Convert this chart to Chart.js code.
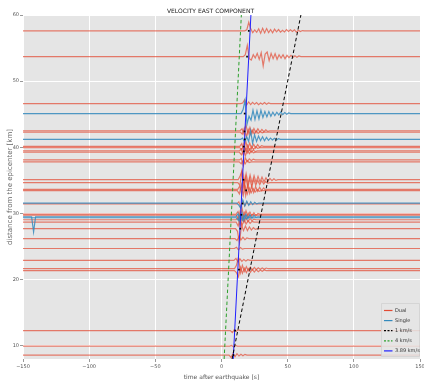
<!DOCTYPE html>
<html>
<head>
<meta charset="utf-8">
<script src="https://cdn.jsdelivr.net/npm/chart.js@4/dist/chart.umd.min.js"></script>
<style>
  html, body { margin: 0; padding: 0; background: #ffffff; }
  #wrap { width: 424px; height: 382px; }
</style>
</head>
<body>
<div id="wrap"><canvas id="c" width="424" height="382"></canvas></div>
<script>
// ---- axis ticks ----
const timeTicks = [-150, -100, -50, 0, 50, 100, 150];
const distTicks = [10, 20, 30, 40, 50, 60];

// ---- seismograms: station distance [km], start of the wave window [s],
//      and the window samples (offset in km, one sample every 1.5 s) ----
const sampleStep = 1.5;

const dualDistance = [57.6, 53.7, 46.6, 42.5, 42.3, 40.15, 39.95, 39.45, 39.25, 38.1, 37.8,
  35.1, 34.65, 33.65, 33.45, 31.45, 29.9, 29.75, 29.05, 28.7, 27.7, 26.2, 24.7, 22.9,
  21.65, 21.35, 12.3, 9.95, 8.6];
const dualStart = [17.6, 16.5, 14.5, 14.0, 14.2, 13.8, 13.8, 13.5, 13.6, 13.5, 13.4,
  12.6, 12.4, 12.3, 12.0, 11.6, 11.0, 11.2, 11.0, 11.1, 10.6, 10.2, 9.8, 9.4,
  9.8, 9.8, 6.7, 6.1, 5.7];
const dualWave = [
  [0, 0.15, 1.3, 0.3, -0.25, 0.15, -0.2, 0.3, -0.35, 0.4, -0.3, 0.35, -0.25, 0.2, -0.3, 0.25, -0.15, 0.2, -0.2, 0.1, -0.15, 0.2, -0.1, 0.15, -0.1, 0.15, -0.2, 0.1, -0.1, 0.05, 0],
  [0, 0.3, 1.7, -0.3, -0.5, 0.3, -0.2, 0.5, -0.4, 0.6, -1.4, 0.4, 0.7, -0.6, 0.5, -0.3, 0.45, -0.4, 0.3, -0.2, 0.3, -0.3, 0.2, -0.15, 0.2, -0.1, 0.15, -0.1, 0.1, 0],
  [0, 0.1, 0.6, -0.2, 0.25, -0.15, 0.2, -0.1, 0.15, -0.15, 0.1, -0.1, 0.15, -0.1, 0.1, 0],
  [0, 0.3, -0.5, 0.9, -0.5, 0.5, -0.4, 0.35, -0.3, 0.3, -0.2, 0.2, -0.15, 0.15, -0.1, 0],
  [0, -0.3, 0.6, -0.7, 0.4, -0.35, 0.3, -0.25, 0.2, -0.2, 0.1, -0.1, 0],
  [0, 0.4, -0.7, 0.8, -0.4, 0.5, -0.35, 0.3, -0.25, 0.25, -0.15, 0.1, 0],
  [0, -0.3, 0.6, -0.5, 0.35, -0.4, 0.2, -0.25, 0.15, -0.1, 0],
  [0, 0.3, -0.6, 0.4, -0.3, 0.3, -0.2, 0.15, -0.1, 0],
  [0, -0.4, 0.3, -0.5, 0.3, -0.2, 0.2, -0.1, 0],
  [0, 0.2, -0.9, 0.3, -0.25, 0.15, -0.1, 0.1, 0],
  [0, -0.3, 0.25, -0.3, 0.2, -0.1, 0],
  [0, 0.6, 1.4, -0.8, 0.9, -0.6, 0.7, -0.5, 0.6, -0.4, 0.5, -0.35, 0.4, -0.3, 0.3, -0.25, 0.2, -0.15, 0.15, -0.1, 0],
  [0, -0.4, 1.7, -1.0, 0.8, -0.7, 0.6, -0.6, 0.5, -0.4, 0.35, -0.3, 0.3, -0.2, 0.2, -0.1, 0],
  [0, 0.5, -0.8, 1.9, -0.9, 0.7, -0.6, 0.5, -0.5, 0.4, -0.3, 0.3, -0.2, 0.2, -0.1, 0],
  [0, -0.5, 0.9, -0.7, 0.6, -0.5, 0.4, -0.3, 0.3, -0.2, 0.15, -0.1, 0],
  [0, 0.3, -0.5, 0.4, -0.3, 0.2, -0.1, 0],
  [0, 0.4, -0.6, 0.9, -0.5, 0.5, -0.4, 0.3, -0.3, 0.2, -0.2, 0.1, 0],
  [0, -0.5, 0.7, -0.6, 0.4, -0.3, 0.3, -0.2, 0.15, 0],
  [0, 0.3, -0.9, 0.5, -0.4, 0.3, -0.3, 0.2, -0.15, 0.1, 0],
  [0, -0.6, 0.5, -0.5, 0.4, -0.3, 0.2, -0.2, 0.1, 0],
  [0, -0.4, -2.2, 0.6, -0.3, 0.4, -0.3, 0.25, -0.2, 0.15, -0.1, 0],
  [0, -0.3, 0.3, -0.2, 0.2, -0.15, 0.1, 0],
  [0, 0.2, -0.2, 0.15, -0.1, 0],
  [0, 0.3, -0.2, 0.25, -0.15, 0.15, -0.1, 0.1, 0],
  [0, 0.5, 1.7, -0.6, 0.5, -0.4, 0.3, -0.3, 0.25, -0.2, 0.2, -0.15, 0.15, -0.1, 0.1, -0.1, 0.1, 0],
  [0, -0.3, -0.9, 0.5, -0.4, 0.35, -0.3, 0.3, -0.25, 0.2, -0.2, 0.15, -0.15, 0.1, -0.1, 0.1, 0],
  [0, -0.3, 0.15, -0.1, 0.1, 0],
  [0, 0.1, -0.1, 0.1, 0],
  [0, -0.35, 0.2, -0.25, 0.2, -0.15, 0.1, -0.1, 0.1, 0]
];

const singleDistance = [45.1, 41.2, 31.55, 29.5, 29.35];
const singleStart = [14.8, 14.5, 11.6, 11.0, 11.2];
const singleWave = [
  [0, 0.6, 2.0, -1.6, -0.4, -1.0, 0.5, -0.9, 0.4, -0.8, 0.5, -0.6, 0.3, -0.5, 0.3, -0.4, 0.2, -0.3, 0.2, -0.2, 0.25, -0.15, 0.15, -0.1, 0.1, 0],
  [0, 0.2, -0.5, 0.4, -0.3, 1.3, -0.6, 0.7, -0.3, 0.5, -0.2, 0.4, -0.2, 0.3, -0.15, 0.2, -0.1, 0.15, -0.1, 0.1, 0],
  [0, -0.3, -0.8, 0.5, -0.4, 0.3, -0.3, 0.2, -0.2, 0.15, -0.1, 0],
  [0, 0.5, -0.7, 0.6, -0.5, 0.4, -0.3, 0.3, -0.2, 0.2, -0.1, 0],
  [0, -0.4, 0.5, -0.4, 0.3, -0.2, 0.15, 0]
];
// early glitch on one single-sensor record
const glitchTrace = 3;
const glitchTime = [-143.5, -142, -140.5];
const glitchOffset = [0, -2.3, 0];

// ---- picked arrivals ----
const pickTime = [20.6, 19.3, 17.5, 17.4, 17.6, 16.8, 16.9, 16.6, 18.6, 15.8, 15.0, 14.2, 13.2, 10.3, 9.0];
const pickDist = [57.6, 53.7, 45.1, 42.4, 41.2, 40.1, 39.4, 35.1, 33.5, 31.5, 29.8, 27.7, 21.5, 12.3, 8.6];

// ---- moveout lines ----
const moveoutDist = [8.0, 62];
const moveoutSpeeds = [1, 4, 3.89];       // km/s
const moveoutDelay = [0, 0, 6.8];         // s
const moveoutLabels = ['1 km/s', '4 km/s', '3.89 km/s'];

const DUAL = 'rgba(226,74,51,0.7)';
const SINGLE = 'rgba(52,138,189,0.85)';

function tracePoints(dist, start, wave, extraT, extraY) {
  const pts = [{x: -150, y: dist}];
  if (extraT) extraT.forEach((t, i) => pts.push({x: t, y: dist + extraY[i]}));
  wave.forEach((w, i) => pts.push({x: start + i * sampleStep, y: dist + w}));
  pts.push({x: 150, y: dist});
  return pts;
}

const datasets = [];
// picks and moveout lines sit on top of the records
datasets.push({
  label: 'picks', type: 'scatter', data: pickTime.map((t, i) => ({x: t, y: pickDist[i]})),
  pointStyle: 'rect', pointRadius: 1.2, backgroundColor: '#000', borderColor: '#000', borderWidth: 0, order: 0
});
const moveStyle = [
  {color: '#000000', dash: [3.5, 2.5]},
  {color: '#2ca02c', dash: [3.5, 2.5]},
  {color: '#2020ff', dash: []}
];
moveoutSpeeds.forEach((v, k) => {
  datasets.push({
    label: moveoutLabels[k],
    data: moveoutDist.map(d => ({x: d / v + moveoutDelay[k], y: d})),
    borderColor: moveStyle[k].color, backgroundColor: moveStyle[k].color,
    borderDash: moveStyle[k].dash, borderWidth: 1, pointRadius: 0, order: 1
  });
});
singleDistance.forEach((d, i) => {
  datasets.push({
    label: 'Single',
    data: tracePoints(d, singleStart[i], singleWave[i],
      i === glitchTrace ? glitchTime : null, glitchOffset),
    borderColor: SINGLE, backgroundColor: SINGLE, borderWidth: 1.2, pointRadius: 0, order: 2
  });
});
dualDistance.forEach((d, i) => {
  datasets.push({
    label: 'Dual',
    data: tracePoints(d, dualStart[i], dualWave[i]),
    borderColor: DUAL, backgroundColor: DUAL, borderWidth: 1.2, pointRadius: 0, order: 3
  });
});

// grey panel behind the data
const panel = {
  id: 'panel',
  beforeDraw(chart) {
    const {ctx, chartArea: a} = chart;
    ctx.save();
    ctx.fillStyle = '#E5E5E5';
    ctx.fillRect(a.left, a.top, a.right - a.left, a.bottom - a.top);
    ctx.restore();
  }
};

// legend box in the lower right corner of the plot
const legendEntries = [
  {text: 'Dual', color: '#E24A33', dash: []},
  {text: 'Single', color: '#348ABD', dash: []},
  {text: '1 km/s', color: '#000000', dash: [2, 1.5]},
  {text: '4 km/s', color: '#2ca02c', dash: [2, 1.5]},
  {text: '3.89 km/s', color: '#2020ff', dash: []}
];
const cornerLegend = {
  id: 'cornerLegend',
  afterDraw(chart) {
    const {ctx, chartArea: a} = chart;
    const w = 38, h = 53;
    const x0 = a.right - w - 1, y0 = a.bottom - h - 3;
    ctx.save();
    ctx.fillStyle = 'rgba(229,229,229,0.85)';
    ctx.strokeStyle = '#d0d0d0';
    ctx.lineWidth = 0.8;
    ctx.beginPath();
    ctx.rect(x0 + 0.5, y0 + 0.5, w, h);
    ctx.fill();
    ctx.stroke();
    ctx.font = '5px "DejaVu Sans"';
    ctx.textBaseline = 'middle';
    ctx.fillStyle = '#333';
    legendEntries.forEach((e, i) => {
      const y = y0 + 7.5 + i * 10.1;
      ctx.strokeStyle = e.color;
      ctx.lineWidth = 1.2;
      ctx.setLineDash(e.dash);
      ctx.beginPath();
      ctx.moveTo(x0 + 3, y);
      ctx.lineTo(x0 + 11.5, y);
      ctx.stroke();
      ctx.setLineDash([]);
      ctx.fillText(e.text, x0 + 14, y);
    });
    ctx.restore();
  }
};

new Chart(document.getElementById('c'), {
  type: 'line',
  data: {datasets},
  plugins: [panel, cornerLegend],
  options: {
    responsive: false,
    animation: false,
    devicePixelRatio: 1,
    parsing: false,
    normalized: true,
    layout: {padding: {left: 0, right: 3, top: 0, bottom: 0}},
    plugins: {
      legend: {display: false},
      tooltip: {enabled: false},
      title: {
        display: true,
        text: 'VELOCITY EAST COMPONENT',
        color: '#222',
        font: {family: 'DejaVu Sans', size: 6, weight: 'normal'},
        padding: {top: 7.5, bottom: 0.3}
      }
    },
    scales: {
      x: {
        type: 'linear', min: -150, max: 150,
        afterBuildTicks: s => { s.ticks = timeTicks.map(v => ({value: v})); },
        afterFit: s => { s.height = 23; s.paddingLeft = 0; s.paddingRight = 0; },
        grid: {color: '#ffffff', lineWidth: 1, tickLength: 3, tickColor: '#999'},
        border: {display: false},
        ticks: {color: '#555', font: {family: 'DejaVu Sans', size: 5}, padding: 2, maxRotation: 0,
          callback: v => (v < 0 ? '\u2212' + Math.abs(v) : String(v))},
        title: {display: true, text: 'time after earthquake [s]', color: '#555',
          font: {family: 'DejaVu Sans', size: 6}, padding: {top: 0, bottom: 1.4}}
      },
      y: {
        type: 'linear', min: 8, max: 60,
        afterBuildTicks: s => { s.ticks = distTicks.map(v => ({value: v})); },
        afterFit: s => { s.width = 23; s.paddingTop = 0; s.paddingBottom = 0; },
        grid: {color: '#ffffff', lineWidth: 1, tickLength: 3, tickColor: '#999'},
        border: {display: false},
        ticks: {color: '#555', font: {family: 'DejaVu Sans', size: 5}, padding: 1},
        title: {display: true, text: 'distance from the epicenter [km]', color: '#666',
          font: {family: 'DejaVu Sans', size: 7}, padding: {top: 5.5, bottom: 0}}
      }
    }
  }
});
</script>
</body>
</html>
